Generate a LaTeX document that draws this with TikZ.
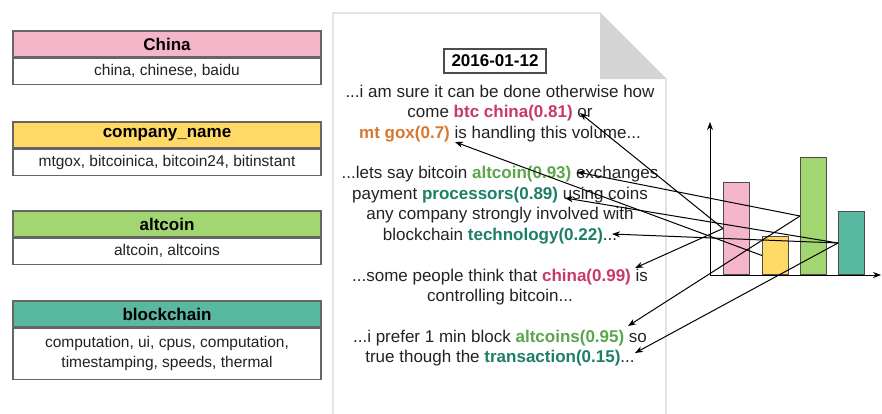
\documentclass[tikz,border=0pt]{standalone}
\usepackage{fontspec}
\setmainfont{Liberation Sans}
\usetikzlibrary{arrows.meta,positioning}

\definecolor{pinkbar}{HTML}{F4B6C8}
\definecolor{yellowbar}{HTML}{FFD966}
\definecolor{greenbar}{HTML}{A3D670}
\definecolor{tealbar}{HTML}{58B8A0}
\definecolor{pinkword}{HTML}{C8376E}
\definecolor{orangeword}{HTML}{D9772F}
\definecolor{greenword}{HTML}{5AA64B}
\definecolor{tealword}{HTML}{1C7F66}
\definecolor{textgray}{HTML}{222222}
\definecolor{docgray}{HTML}{D4D4D4}

\tikzset{
    cathead/.style={draw=black!60, line width=1.2pt, minimum width=308pt, minimum height=26pt, inner sep=0pt, font=\fontsize{17}{20}\selectfont\bfseries},
    catbody/.style={draw=black!60, line width=1.2pt, fill=white, minimum width=308pt, minimum height=26pt, inner sep=0pt, align=center, text=textgray, font=\fontsize{15.5}{19.5}\selectfont},
    docline/.style={anchor=base, inner sep=0pt, text=textgray, font=\fontsize{17}{20}\selectfont},
    bar/.style={draw=black!70, line width=1pt, anchor=south west, minimum width=25.5pt, inner sep=0pt},
    link/.style={-{Stealth[length=8pt,width=6pt]}, line width=1pt},
}

\begin{document}
\begin{tikzpicture}[x=1pt, y=-1pt]
                \useasboundingbox (0,0) rectangle (882,413);

                % Categories
                \node[cathead, fill=pinkbar]   at (167, 44)  (china)      {China};
                \node[catbody, below=0pt of china]          (chinawords)  {china, chinese, baidu};
                \node[cathead, fill=yellowbar] at (167, 135) (company)    {company\_name};
                \node[catbody, below=0pt of company]        (companywords) {mtgox, bitcoinica, bitcoin24, bitinstant};
                \node[cathead, fill=greenbar]  at (167, 224) (altcoin)    {altcoin};
                \node[catbody, below=0pt of altcoin]        (altcoinwords) {altcoin, altcoins};
                \node[cathead, fill=tealbar]   at (167, 314) (blockchain) {blockchain};
                \node[catbody, below=0pt of blockchain, minimum height=51pt] (blockchainwords) {computation, ui, cpus, computation,\\timestamping, speeds, thermal};

                % Document
                \draw[docgray, line width=1.2pt] (333, 420) -- (333, 13) -- (600, 13) -- (666, 79) -- (666, 420);
                \fill[docgray] (600, 13) -- (600, 79) -- (666, 79) -- cycle;
                \node[draw=black!70, line width=1.5pt, minimum width=102pt, minimum height=24pt, inner sep=0pt, font=\fontsize{17}{20}\selectfont\bfseries] at (495, 61) (date) {2016-01-12};

                \node[docline] at (500, 97)    (l1)  {...i am sure it can be done otherwise how};
                \node[docline] at (500, 117.5) (l2)  {come \textcolor{pinkword}{\bfseries btc china(0.81)} or};
                \node[docline] at (500, 138)   (l3)  {\textcolor{orangeword}{\bfseries mt gox(0.7)} is handling this volume...};
                \node[docline] at (500, 178)   (l4)  {...lets say bitcoin \textcolor{greenword}{\bfseries altcoin(0.93)} exchanges};
                \node[docline] at (500, 199)   (l5)  {payment \textcolor{tealword}{\bfseries processors(0.89)} using coins};
                \node[docline] at (500, 219.5) (l6)  {any company strongly involved with};
                \node[docline] at (500, 240)   (l7)  {blockchain \textcolor{tealword}{\bfseries technology(0.22)}...};
                \node[docline] at (500, 281)   (l8)  {...some people think that \textcolor{pinkword}{\bfseries china(0.99)} is};
                \node[docline] at (500, 301.5) (l9)  {controlling bitcoin...};
                \node[docline] at (500, 342)   (l10) {...i prefer 1 min block \textcolor{greenword}{\bfseries altcoins(0.95)} so};
                \node[docline] at (500, 362.5) (l11) {true though the \textcolor{tealword}{\bfseries transaction(0.15)}...};

                % Word ends
                \coordinate (btcchina)    at (580, 113);
                \coordinate (mtgox)       at (455, 142);
                \coordinate (altcoinone)  at (577, 172);
                \coordinate (processors)  at (565, 198);
                \coordinate (technology)  at (612, 234);
                \coordinate (chinaword)   at (635, 268);
                \coordinate (altcointwo)  at (628, 326);
                \coordinate (transaction) at (635, 353);

                % Chart
                \node[bar, fill=pinkbar,   minimum height=92pt]  at (723, 275) (pinkbar)   {};
                \node[bar, fill=yellowbar, minimum height=38pt]  at (762, 275) (yellowbar) {};
                \node[bar, fill=greenbar,  minimum height=117pt] at (800, 275) (greenbar)  {};
                \node[bar, fill=tealbar,   minimum height=63pt]  at (838, 275) (tealbar)   {};

                \coordinate (origin) at (710, 275);
                \coordinate (ytop)   at (710, 122);
                \coordinate (xend)   at (881, 275);
                \draw[link] (origin) -- (ytop);
                \draw[link] (origin) -- (xend);

                \draw[link]  (pinkbar.west)   -- (btcchina);
                \draw[link]  (pinkbar.west)   -- (chinaword);

                \draw[link]  (yellowbar.west) -- (mtgox);

                \draw[link]  (greenbar.west)  -- (altcoinone);
                \draw[link]  (greenbar.west)  -- (altcointwo);

                \draw[link]  (tealbar.west)   -- (processors);
                \draw[link]  (tealbar.west)   -- (technology);
                \draw[link]  (tealbar.west)   -- (transaction);
            \end{tikzpicture}
\end{document}
